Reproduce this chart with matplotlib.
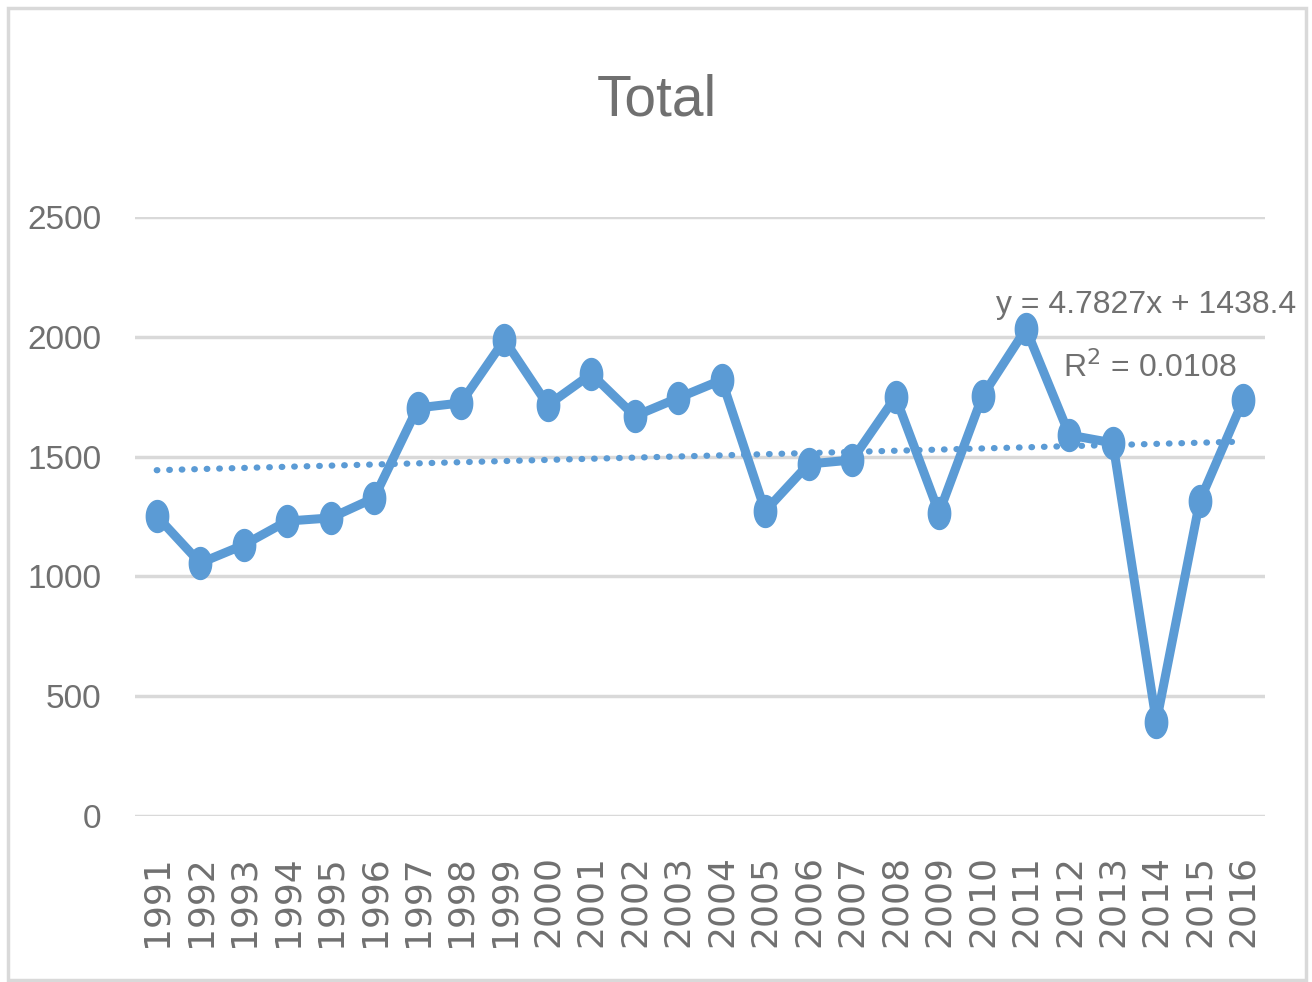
import numpy as np
import matplotlib.pyplot as plt
from matplotlib.patches import Rectangle
from matplotlib.path import Path

years = [str(y) for y in range(1991, 2017)]
totals = [1252, 1056, 1131, 1231, 1244, 1327, 1703, 1724, 1987, 1715,
          1845, 1669, 1745, 1820, 1273, 1469, 1486, 1749, 1265, 1753,
          2033, 1590, 1557, 392, 1315, 1736]
slope, intercept = 4.7827, 1438.4
eq_text = "y = 4.7827x + 1438.4"
r2_text = "R$^2$ = 0.0108"

blue = '#5B9BD5'
grey = '#707070'
narrow = ['Liberation Sans Narrow', 'Liberation Sans', 'DejaVu Sans']

# tall elliptical marker
theta = np.linspace(0, 2 * np.pi, 60)
ell = Path(np.column_stack([0.7 * np.cos(theta), np.sin(theta)]), closed=True)

fig = plt.figure(figsize=(13.12, 9.82), dpi=100)
fig.patches.append(Rectangle((8 / 1312, 2 / 982), 1298 / 1312, 972 / 982,
                             transform=fig.transFigure, fill=False,
                             edgecolor='#d9d9d9', linewidth=2.5))

ax = fig.add_axes([135 / 1312, 1 - 816 / 982, 1130 / 1312, 599 / 982])
x = np.arange(len(years))
ax.plot(x, totals, color=blue, linewidth=6.5, marker=ell, markersize=23,
        solid_joinstyle='round', zorder=3)

xt = np.arange(1, len(years) + 1)
ax.plot(x, slope * xt + intercept, color=blue, linewidth=4.5,
        linestyle=(0, (0.1, 1.9)), dash_capstyle='round', zorder=2)

ax.set_xlim(-0.5, len(years) - 0.5)
ax.set_ylim(0, 2500)
ax.set_yticks(range(0, 2501, 500))
ax.set_xticks(x)
ax.set_xticklabels(years, rotation=90, fontsize=26, color=grey,
                   family='DejaVu Sans')
for lab in ax.get_yticklabels():
    lab.set_family(narrow)
    lab.set_fontsize(24)
    lab.set_color(grey)
ax.tick_params(length=0)
ax.tick_params(axis='y', pad=24)
ax.tick_params(axis='x', pad=28)
ax.grid(axis='y', color='#d9d9d9', linewidth=2.5)
ax.set_axisbelow(True)
for s in ax.spines.values():
    s.set_visible(False)

fig.text(657 / 1312, 1 - 100 / 982, "Total", ha='center', va='center',
         fontsize=41, color=grey, family=narrow)
fig.text(1296 / 1312, 1 - 305 / 982, eq_text, ha='right', va='center',
         fontsize=23, color=grey, family=narrow)
fig.text(1150 / 1312, 1 - 368 / 982, r2_text, ha='center', va='center',
         fontsize=23, color=grey, family=narrow)

fig.savefig('out.png', dpi=100)
